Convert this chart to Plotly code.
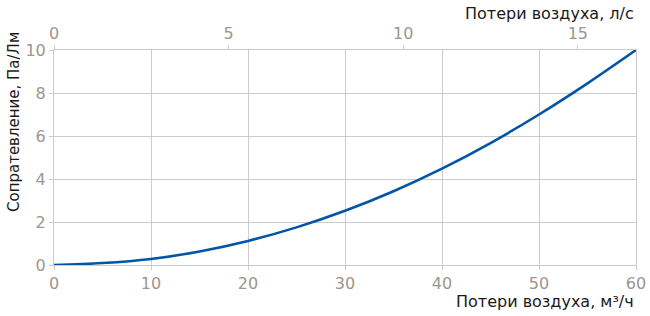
import plotly.graph_objects as go

flow_m3h = [0, 5, 10, 15, 20, 25, 30, 35, 40, 45, 50, 55, 60]
resistance = [0, 0.09, 0.28, 0.63, 1.12, 1.75, 2.52, 3.43, 4.48, 5.67, 7.0, 8.45, 10.0]
x_ticks = [0, 10, 20, 30, 40, 50, 60]
y_ticks = [0, 2, 4, 6, 8, 10]
top_ticks = [0, 5, 10, 15]
m3h_per_ls = 3.6

FONT = "DejaVu Sans"
TICKC = "#9b968f"
GRID = "#cccccc"
TITLEC = "#1a1a1a"

fig = go.Figure()
fig.add_trace(go.Scatter(x=flow_m3h, y=resistance, mode="lines", line=dict(color="#0055a8", width=2.6, shape="spline"),
                         hoverinfo="skip", showlegend=False))
fig.add_trace(go.Scatter(x=[0, 60 / m3h_per_ls], y=[0, 0], xaxis="x2", mode="lines",
                         line=dict(color="rgba(0,0,0,0)"), hoverinfo="skip", showlegend=False))

fig.update_layout(
    width=650, height=316,
    margin=dict(l=54, r=14, t=50, b=51, autoexpand=False),
    paper_bgcolor="white", plot_bgcolor="white",
    font=dict(family=FONT),
    xaxis=dict(range=[0, 60], tickvals=x_ticks, showgrid=True, gridcolor=GRID, gridwidth=1,
               showline=True, linecolor=GRID, mirror=True, zeroline=False, automargin=False,
               ticks="outside", ticklen=4, tickcolor=GRID,
               tickfont=dict(size=16, color=TICKC, family=FONT)),
    xaxis2=dict(range=[0, 60 / m3h_per_ls], tickvals=top_ticks, overlaying="x", side="top",
                showgrid=False, zeroline=False, showline=False, automargin=False,
                ticks="outside", ticklen=4, tickcolor=GRID,
                tickfont=dict(size=16, color=TICKC, family=FONT)),
    yaxis=dict(range=[0, 10], tickvals=y_ticks, showgrid=True, gridcolor=GRID, gridwidth=1,
               showline=True, linecolor=GRID, mirror=True, zeroline=False, automargin=False,
               ticks="outside", ticklen=4, tickcolor=GRID,
               tickfont=dict(size=16, color=TICKC, family=FONT)),
    annotations=[
        dict(text="Потери воздуха, м³/ч", xref="paper", yref="paper", x=1.0, y=0, yshift=-36,
             xanchor="right", yanchor="middle", showarrow=False,
             font=dict(size=16, color=TITLEC, family=FONT)),
        dict(text="Потери воздуха, л/с", xref="paper", yref="paper", x=1.0, y=1.0, yshift=37,
             xanchor="right", yanchor="middle", showarrow=False,
             font=dict(size=16, color=TITLEC, family=FONT)),
        dict(text="Сопратевление, Па/Лм", xref="paper", yref="paper", x=0, xshift=-40, y=0.665,
             xanchor="center", yanchor="middle", textangle=-90, showarrow=False,
             font=dict(size=15, color=TITLEC, family=FONT)),
    ],
)

fig.write_html("out.html")
